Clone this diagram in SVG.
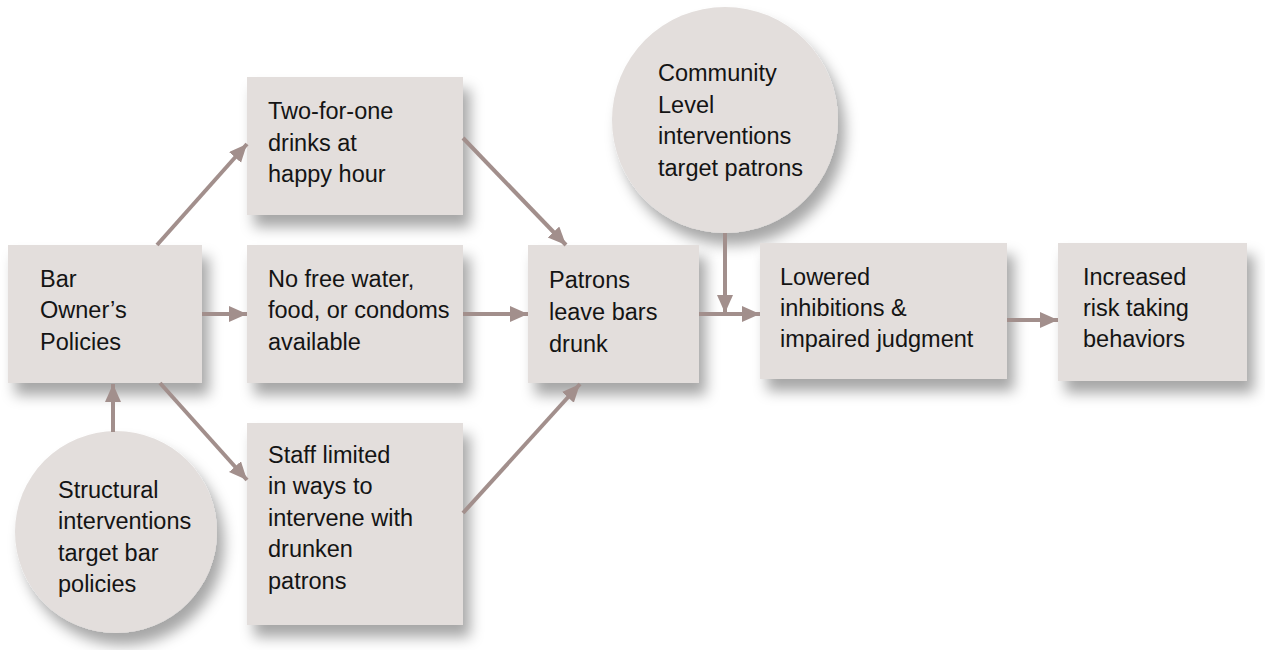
<svg xmlns="http://www.w3.org/2000/svg" width="1265" height="650" viewBox="0 0 1265 650">
<defs>
<filter id="sh" x="-20%" y="-20%" width="150%" height="150%">
<feDropShadow dx="7" dy="12" stdDeviation="7" flood-color="#000" flood-opacity="0.35"/>
</filter>
<marker id="ah" markerUnits="userSpaceOnUse" markerWidth="20" markerHeight="18" refX="18" refY="8" orient="auto">
<path d="M0,0 L18,8 L0,16 Z" fill="#a28f8c"/>
</marker>
</defs>
<style>
.box{fill:#e3dedc;filter:url(#sh)}
.t{font-family:"Liberation Sans",Arial,sans-serif;font-size:23.5px;fill:#141414}
.c line{stroke:#a28f8c;stroke-width:4;marker-end:url(#ah)}
</style>
<rect width="1265" height="650" fill="#fff"/>
<g id="community"><circle class="box" cx="725" cy="120" r="113"/>
<text class="t"><tspan x="658" y="81">Community</tspan><tspan x="658" y="113">Level</tspan><tspan x="658" y="144">interventions</tspan><tspan x="658" y="176">target patrons</tspan></text></g>
<g id="structural"><circle class="box" cx="116" cy="532" r="101"/>
<text class="t"><tspan x="58" y="498">Structural</tspan><tspan x="58" y="529">interventions</tspan><tspan x="58" y="561">target bar</tspan><tspan x="58" y="592">policies</tspan></text></g>
<g id="bar"><rect class="box" x="8" y="245" width="194" height="138"/>
<text class="t"><tspan x="40" y="287">Bar</tspan><tspan x="40" y="318">Owner’s</tspan><tspan x="40" y="350">Policies</tspan></text></g>
<g id="twoforone"><rect class="box" x="247" y="77" width="216" height="138"/>
<text class="t"><tspan x="268" y="119">Two-for-one</tspan><tspan x="268" y="151">drinks at</tspan><tspan x="268" y="182">happy hour</tspan></text></g>
<g id="nofree"><rect class="box" x="247" y="245" width="216" height="138"/>
<text class="t"><tspan x="268" y="287">No free water,</tspan><tspan x="268" y="318">food, or condoms</tspan><tspan x="268" y="350">available</tspan></text></g>
<g id="staff"><rect class="box" x="247" y="423" width="216" height="202"/>
<text class="t"><tspan x="268" y="463">Staff limited</tspan><tspan x="268" y="494">in ways to</tspan><tspan x="268" y="526">intervene with</tspan><tspan x="268" y="557">drunken</tspan><tspan x="268" y="589">patrons</tspan></text></g>
<g id="patrons"><rect class="box" x="528" y="245" width="171" height="138"/>
<text class="t"><tspan x="549" y="288">Patrons</tspan><tspan x="549" y="320">leave bars</tspan><tspan x="549" y="352">drunk</tspan></text></g>
<g id="lowered"><rect class="box" x="760" y="243" width="247" height="136"/>
<text class="t"><tspan x="780" y="285">Lowered</tspan><tspan x="780" y="316">inhibitions &amp;</tspan><tspan x="780" y="347">impaired judgment</tspan></text></g>
<g id="increased"><rect class="box" x="1058" y="243" width="189" height="138"/>
<text class="t"><tspan x="1083" y="285">Increased</tspan><tspan x="1083" y="316">risk taking</tspan><tspan x="1083" y="347">behaviors</tspan></text></g>
<g id="connectors" class="c">
<line x1="157" y1="245" x2="247" y2="144"/>
<line x1="202" y1="314" x2="247" y2="314"/>
<line x1="160" y1="383" x2="247" y2="480"/>
<line x1="113" y1="432" x2="113" y2="384"/>
<line x1="463" y1="138" x2="566" y2="245"/>
<line x1="463" y1="314" x2="528" y2="314"/>
<line x1="463" y1="513" x2="580" y2="384"/>
<line x1="699" y1="314" x2="760" y2="314"/>
<line x1="725" y1="233" x2="725" y2="313"/>
<line x1="1007" y1="320" x2="1058" y2="320"/>
</g>
</svg>
